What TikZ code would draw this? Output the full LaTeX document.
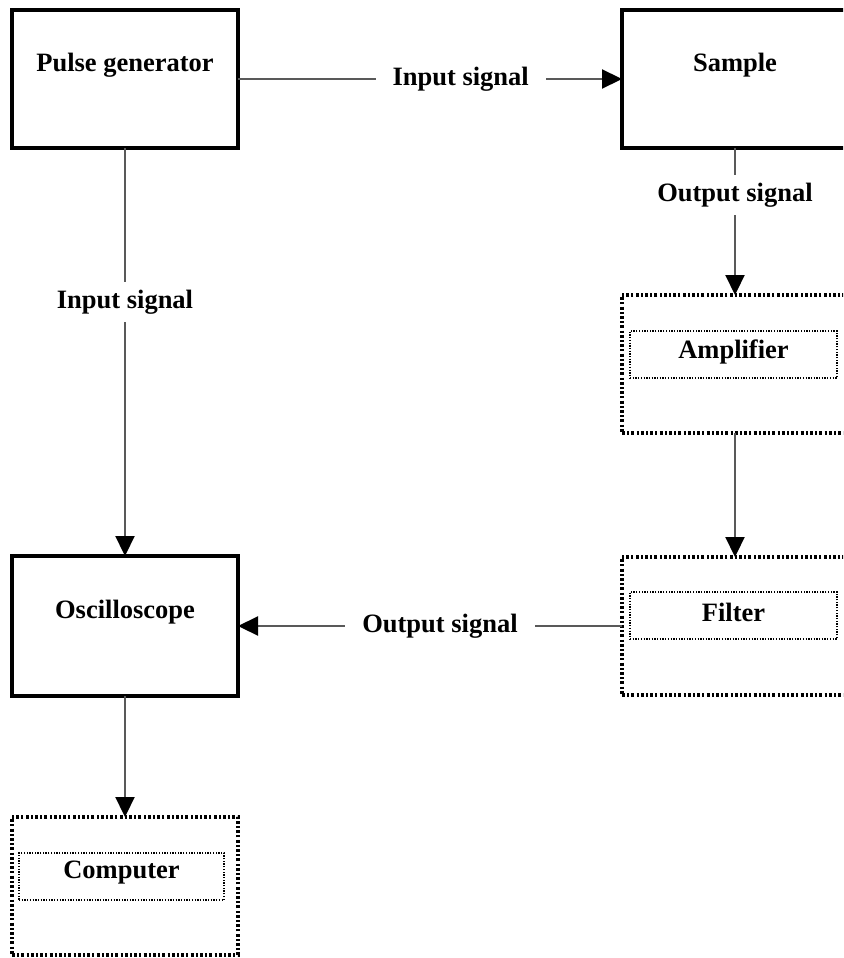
\documentclass[tikz,border=0pt]{standalone}
\usepackage{fontspec}
\setmainfont{Liberation Serif}
\usetikzlibrary{arrows.meta}
\begin{document}
\begin{tikzpicture}[x=1pt,y=-1pt,
  font=\fontsize{26.5}{30}\selectfont\bfseries,
  solidbox/.style={draw, line width=3.8pt, minimum width=226pt, minimum height=138pt, inner sep=0pt, outer sep=0pt},
  dotbox/.style={draw, line width=3.2pt, dash pattern=on 3pt off 2.2pt on 2pt off 2.2pt, minimum width=226pt, minimum height=138pt, inner sep=0pt, outer sep=0pt},
  innerbox/.style={draw, line width=1.2pt, dash pattern=on 1.3pt off 1.4pt, minimum height=47pt, inner sep=0pt},
  txt/.style={inner sep=0pt},
  conn/.style={draw=black!65, line width=2.2pt, -{Triangle[length=20pt,width=19pt,black]}},
  lab/.style={fill=white, inner xsep=17pt, inner ysep=8pt, text=black}]
\useasboundingbox (0,0) rectangle (843,958);
\clip (0,0) rectangle (843,958);
\fill[white] (0,0) rectangle (843,958);
% boxes
\node[solidbox] (pg) at (125,79) {};
\node[solidbox] (sm) at (735,79) {};
\node[dotbox] (amp) at (735,364) {};
\node[innerbox, minimum width=207pt] (ampin) at (733.5,354.5) {};
\node[dotbox] (flt) at (735,626) {};
\node[innerbox, minimum width=207pt] (fltin) at (733.5,615.5) {};
\node[solidbox, minimum height=140pt] (osc) at (125,626) {};
\node[dotbox] (cmp) at (125,886) {};
\node[innerbox, minimum width=205pt] (cmpin) at (121.5,876.5) {};
% texts
\node[txt] (pgt) at (125,65) {Pulse generator};
\node[txt] (smt) at (735,65) {Sample};
\node[txt] (ampt) at (733.5,352) {Amplifier};
\node[txt] (fltt) at (733.5,612) {Filter};
\node[txt] (osct) at (125,612) {Oscilloscope};
\node[txt] (cmpt) at (121.5,873) {Computer};
% connectors
\draw[conn] (pg) -- node[lab,pos=0.58] (l1) {Input signal} (sm);
\draw[conn] (sm) -- node[lab,pos=0.32] (l2) {Output signal} (amp);
\draw[conn] (amp) -- (flt);
\draw[conn] (flt) -- node[lab,pos=0.474] (l3) {Output signal} (osc);
\draw[conn] (pg) -- node[lab,pos=0.378] (l4) {Input signal} (osc);
\draw[conn] (osc) -- (cmp);
\end{tikzpicture}
\end{document}
